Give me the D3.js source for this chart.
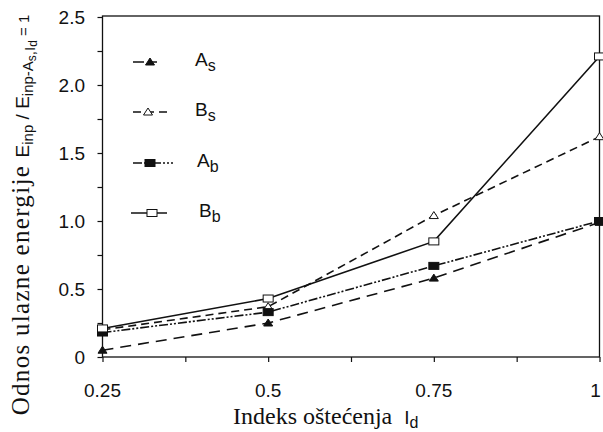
<!DOCTYPE html>
<html><head><meta charset="utf-8">
<script src="https://cdn.jsdelivr.net/npm/d3@7"></script>
<style>body{margin:0;background:#fff}svg{display:block}</style>
</head><body>
<svg id="c" width="603" height="432"></svg>
<script>
const xValues = [0.25, 0.5, 0.75, 1];
const seriesNames = ["As", "Bs", "Ab", "Bb"];
const As = [0.05, 0.25, 0.58, 0.99];
const Bs = [0.20, 0.37, 1.04, 1.62];
const Ab = [0.18, 0.33, 0.67, 1.00];
const Bb = [0.21, 0.43, 0.85, 2.21];
const xTickLabels = ["0.25", "0.5", "0.75", "1"];
const yTickValues = [0, 0.5, 1.0, 1.5, 2.0, 2.5];
const yTickLabels = ["0", "0.5", "1.0", "1.5", "2.0", "2.5"];

const svg = d3.select("#c");
const L = 102.5, R = 599.5, T = 17, B = 357;
const x = d3.scaleLinear().domain([0.25, 1]).range([L, R]);
const y = d3.scaleLinear().domain([0, 2.5]).range([B, T]);
const sans = "Liberation Sans, Arial, sans-serif";
const serif = "Liberation Serif, Times New Roman, serif";

const styles = {
  As: {dash: "11,7", marker: "triFilled", lx1: 133, lx2: 157, mx: 150, tx: 195},
  Bs: {dash: "8,5", marker: "triOpen", lx1: 133, lx2: 170, mx: 148, tx: 195},
  Ab: {dash: "9,2,2,2,2,2", marker: "sqFilled", lx1: 133, lx2: 173, mx: 150, tx: 197},
  Bb: {dash: null, marker: "sqOpen", lx1: 131, lx2: 167, mx: 152, tx: 199}
};
const data = {As, Bs, Ab, Bb};

// frame
svg.append("rect").attr("x", L).attr("y", T - 1).attr("width", R - L).attr("height", B - T + 1)
  .attr("fill", "none").attr("stroke", "#111").attr("stroke-width", 1.3);

// axes
const xAxis = d3.axisBottom(x).tickValues(d3.range(0.25, 1.001, 0.125)).tickSize(5).tickFormat("");
svg.append("g").attr("transform", `translate(0,${B})`).call(xAxis)
  .call(g => { g.select(".domain").remove(); g.selectAll("line").attr("stroke", "#111").attr("stroke-width", 1.2); });
const yAxis = d3.axisLeft(y).tickValues(d3.range(0, 2.501, 0.25)).tickSize(5).tickFormat("");
svg.append("g").attr("transform", `translate(${L},0)`).call(yAxis)
  .call(g => { g.select(".domain").remove(); g.selectAll("line").attr("stroke", "#111").attr("stroke-width", 1.2); });

// tick labels
svg.append("g").selectAll("text").data(xValues).join("text")
  .attr("x", (d, i) => i === 3 ? x(d) - 4 : x(d)).attr("y", 397)
  .attr("text-anchor", "middle").attr("font-family", sans)
  .attr("font-size", 19).attr("fill", "#111").text((d, i) => xTickLabels[i]);
svg.append("g").selectAll("text").data(yTickValues).join("text")
  .attr("x", 85).attr("y", d => y(d) + 7)
  .attr("text-anchor", "end").attr("font-family", sans)
  .attr("font-size", 19).attr("fill", "#111").text((d, i) => yTickLabels[i]);

// lines
const line = d3.line().x((d, i) => x(xValues[i])).y(d => y(d));
function marker(g, type, cx, cy) {
  if (type === "triFilled" || type === "triOpen") {
    g.append("path").attr("d", `M${cx},${cy - 4}L${cx + 4.5},${cy + 3}L${cx - 4.5},${cy + 3}Z`)
      .attr("fill", type === "triFilled" ? "#111" : "#fff").attr("stroke", "#111").attr("stroke-width", 1);
  } else {
    g.append("rect").attr("x", cx - 5).attr("y", cy - 3.5).attr("width", 10).attr("height", 7)
      .attr("fill", type === "sqFilled" ? "#111" : "#fff").attr("stroke", "#111").attr("stroke-width", 1);
  }
}
seriesNames.forEach(name => {
  const s = styles[name];
  svg.append("path").datum(data[name]).attr("d", line).attr("fill", "none")
    .attr("stroke", "#111").attr("stroke-width", 1.6)
    .attr("stroke-dasharray", s.dash);
});
seriesNames.forEach(name => {
  const g = svg.append("g");
  data[name].forEach((v, i) => marker(g, styles[name].marker, x(xValues[i]), y(v)));
});

// legend
const legY = [62, 112, 163, 213];
const legend = svg.append("g");
seriesNames.forEach((name, i) => {
  const s = styles[name];
  const yy = legY[i];
  legend.append("line").attr("x1", s.lx1).attr("x2", s.lx2).attr("y1", yy).attr("y2", yy)
    .attr("stroke", "#111").attr("stroke-width", 1.4).attr("stroke-dasharray", s.dash);
  marker(legend, s.marker, s.mx, yy);
  const t = legend.append("text").attr("x", s.tx).attr("y", yy + 4)
    .attr("font-family", sans).attr("font-size", 19).attr("fill", "#111");
  t.append("tspan").text(name[0]);
  t.append("tspan").attr("font-size", 16).attr("dy", 5).text(name[1]);
});

// x title
const xt = svg.append("text").attr("x", 233).attr("y", 424)
  .attr("font-family", serif).attr("font-size", 24).attr("fill", "#111");
xt.append("tspan").text("Indeks oštećenja");
xt.append("tspan").attr("font-family", sans).attr("font-size", 19).attr("dx", 12).text("I");
xt.append("tspan").attr("font-family", sans).attr("font-size", 16).attr("dy", 4).text("d");

// y title
const yt = svg.append("text").attr("transform", "translate(29,215) rotate(-90)").attr("text-anchor", "middle")
  .attr("font-family", serif).attr("font-size", 25).attr("fill", "#111");
yt.append("tspan").attr("letter-spacing", 1.3).text("Odnos ulazne energije ");
yt.append("tspan").attr("font-family", sans).attr("font-size", 19).text("E");
yt.append("tspan").attr("font-family", sans).attr("font-size", 15).attr("dy", 4).text("inp");
yt.append("tspan").attr("font-family", sans).attr("font-size", 19).attr("dy", -4).text(" / E");
yt.append("tspan").attr("font-family", sans).attr("font-size", 15).attr("dy", 4).text("inp-A");
yt.append("tspan").attr("font-family", sans).attr("font-size", 12).attr("dy", 3).text("s");
yt.append("tspan").attr("font-family", sans).attr("font-size", 15).attr("dy", -1).text(",I");
yt.append("tspan").attr("font-family", sans).attr("font-size", 12).attr("dy", 2).text("d");
yt.append("tspan").attr("font-family", sans).attr("font-size", 15).attr("dy", -8).text(" = 1");
</script>
</body></html>
